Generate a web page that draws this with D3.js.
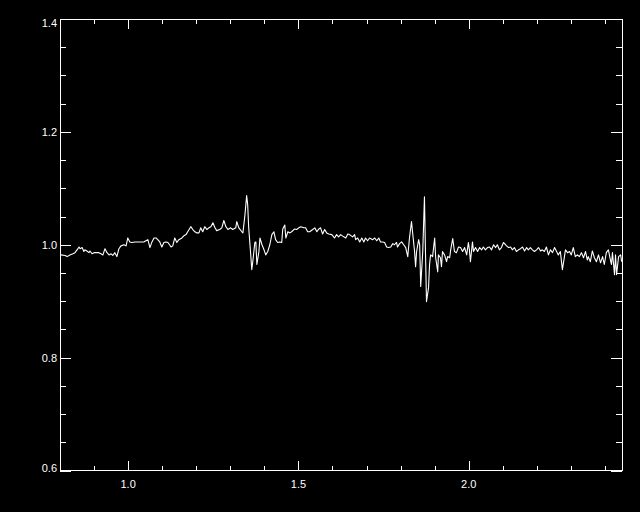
<!DOCTYPE html>
<html>
<head>
<meta charset="utf-8">
<script src="https://cdn.jsdelivr.net/npm/d3@7"></script>
<style>
  html, body { margin: 0; padding: 0; background: #000; }
  .plot-frame { fill: none; stroke: #fff; stroke-width: 1; shape-rendering: crispEdges; }
  .plot-tick { stroke: #fff; stroke-width: 1; shape-rendering: crispEdges; }
  .plot-label { fill: #fff; font-family: "Liberation Sans", Arial, sans-serif; font-size: 11px; }
  .plot-line { fill: none; stroke: #fff; stroke-width: 1.1; stroke-linejoin: round; }
</style>
</head>
<body>
<div class="chart"></div>
<script>
// Spectrum samples (x = wavelength, y = normalised flux)
var wave = [
  0.803, 0.815, 0.821, 0.829, 0.838, 0.844, 0.850, 0.856, 0.859, 0.865,
  0.870, 0.873, 0.879, 0.885, 0.888, 0.894, 0.900, 0.906, 0.914, 0.920,
  0.926, 0.932, 0.938, 0.944, 0.950, 0.955, 0.961, 0.967, 0.973, 0.979,
  0.988, 0.994, 0.999, 1.005, 1.011, 1.020, 1.029, 1.038, 1.046, 1.052,
  1.058, 1.064, 1.070, 1.076, 1.082, 1.087, 1.093, 1.099, 1.105, 1.111,
  1.117, 1.126,
  1.131, 1.137, 1.143, 1.149, 1.158, 1.164, 1.170, 1.175, 1.184, 1.190,
  1.196, 1.202, 1.208, 1.213, 1.219, 1.225, 1.231, 1.237, 1.243, 1.249,
  1.255, 1.260, 1.269, 1.275, 1.281, 1.287, 1.293, 1.301, 1.307, 1.316,
  1.319, 1.325, 1.334, 1.337, 1.343, 1.348, 1.351, 1.354, 1.360, 1.363,
  1.366, 1.372, 1.375, 1.378, 1.384, 1.387, 1.393, 1.399, 1.404, 1.410,
  1.416, 1.422, 1.428, 1.433, 1.439, 1.445, 1.451, 1.454,
  1.460, 1.463, 1.469, 1.475, 1.480, 1.489, 1.495, 1.501, 1.507, 1.516,
  1.521, 1.527, 1.533, 1.542, 1.548, 1.554, 1.560, 1.565, 1.571, 1.577,
  1.583, 1.589, 1.598, 1.606, 1.612, 1.618, 1.624, 1.633, 1.639, 1.645,
  1.650, 1.659, 1.665, 1.668, 1.674, 1.680, 1.686, 1.692, 1.697, 1.703,
  1.709, 1.718, 1.724, 1.730, 1.736, 1.741, 1.747, 1.753, 1.759, 1.765,
  1.771, 1.777, 1.782,
  1.788, 1.791, 1.797, 1.803, 1.809, 1.815, 1.821, 1.826, 1.832, 1.835,
  1.841, 1.844, 1.847, 1.853, 1.856, 1.859, 1.865, 1.870, 1.873, 1.876,
  1.882, 1.885, 1.888, 1.894, 1.897, 1.900, 1.903, 1.909, 1.911, 1.917,
  1.920, 1.923, 1.929, 1.935, 1.938, 1.944, 1.947, 1.953, 1.958, 1.964,
  1.970, 1.976, 1.982, 1.988, 1.994, 1.999, 2.002, 2.005, 2.011, 2.014,
  2.020, 2.026, 2.032, 2.038, 2.043, 2.049, 2.055, 2.061, 2.067, 2.073,
  2.079, 2.084, 2.090, 2.096, 2.102, 2.111,
  2.117, 2.123, 2.128, 2.134, 2.140, 2.146, 2.152, 2.158, 2.164, 2.170,
  2.175, 2.181, 2.187, 2.193, 2.199, 2.205, 2.211, 2.216, 2.222, 2.228,
  2.234, 2.240, 2.246, 2.252, 2.258, 2.263, 2.269, 2.275, 2.281, 2.284,
  2.290, 2.296, 2.301, 2.307, 2.313, 2.319, 2.325, 2.331, 2.337, 2.343,
  2.348, 2.351, 2.357, 2.363, 2.369, 2.375, 2.381, 2.387, 2.393, 2.398,
  2.404, 2.410, 2.416, 2.419, 2.422, 2.428, 2.431, 2.434, 2.440, 2.446,
  2.449
];
var flux = [
  0.982, 0.981, 0.979, 0.982, 0.984, 0.986, 0.991, 0.996, 0.993, 0.995,
  0.988, 0.991, 0.989, 0.986, 0.989, 0.984, 0.986, 0.986, 0.986, 0.984,
  0.982, 0.993, 0.986, 0.982, 0.984, 0.981, 0.986, 0.979, 0.993, 0.998,
  1.000, 0.998, 1.012, 1.005, 1.004, 1.005, 1.005, 1.005, 1.005, 1.007,
  1.009, 0.995, 1.005, 1.012, 1.012, 1.009, 1.005, 0.996, 1.004, 1.005,
  1.004, 0.996,
  0.998, 1.012, 1.004, 1.009, 1.012, 1.016, 1.018, 1.023, 1.032, 1.027,
  1.023, 1.021, 1.021, 1.030, 1.023, 1.032, 1.027, 1.030, 1.032, 1.039,
  1.030, 1.025, 1.027, 1.030, 1.043, 1.032, 1.027, 1.030, 1.027, 1.030,
  1.041, 1.030, 1.023, 1.021, 1.053, 1.087, 1.071, 1.030, 0.982, 0.956,
  0.970, 1.004, 1.005, 0.965, 0.988, 1.012, 1.000, 0.991, 0.982, 0.988,
  1.000, 1.018, 1.023, 1.009, 1.004, 1.005, 1.004, 1.028,
  1.035, 1.012, 1.023, 1.021, 1.023, 1.028, 1.027, 1.030, 1.032, 1.030,
  1.030, 1.023, 1.023, 1.027, 1.030, 1.023, 1.028, 1.030, 1.019, 1.027,
  1.021, 1.019, 1.018, 1.012, 1.018, 1.014, 1.018, 1.014, 1.012, 1.019,
  1.018, 1.014, 1.018, 1.009, 1.012, 1.005, 1.012, 1.005, 1.012, 1.007,
  1.012, 1.009, 1.012, 1.007, 1.012, 1.005, 1.005, 1.004, 0.996, 0.995,
  0.996, 1.002, 1.000,
  1.004, 0.996, 1.002, 1.005, 1.000, 0.995, 0.979, 1.012, 1.041, 1.023,
  0.988, 0.961, 0.988, 1.009, 1.000, 0.926, 0.988, 1.085, 0.988, 0.899,
  0.924, 0.965, 0.982, 0.979, 0.996, 1.012, 0.977, 0.952, 0.982, 0.977,
  0.961, 0.988, 0.982, 0.970, 0.979, 0.977, 0.991, 1.011, 0.988, 0.986,
  0.996, 0.995, 0.988, 0.995, 0.982, 1.004, 0.991, 0.970, 1.005, 0.988,
  0.995, 0.988, 0.995, 0.991, 0.996, 0.991, 0.995, 0.996, 0.991, 1.000,
  0.995, 1.000, 0.991, 0.995, 1.004, 0.998,
  0.995, 0.996, 0.991, 0.995, 0.988, 0.991, 0.993, 0.996, 0.989, 0.995,
  0.991, 0.995, 0.991, 0.988, 0.991, 0.995, 0.989, 0.991, 0.988, 0.996,
  0.982, 0.991, 0.986, 0.995, 0.988, 0.982, 0.988, 0.956, 0.979, 0.991,
  0.986, 0.988, 0.982, 0.995, 0.979, 0.982, 0.979, 0.986, 0.977, 0.988,
  0.973, 0.979, 0.970, 0.989, 0.977, 0.970, 0.982, 0.968, 0.979, 0.965,
  0.986, 0.991, 0.973, 0.965, 0.986, 0.947, 0.982, 0.947, 0.979, 0.982,
  0.970
];

// Axis ranges and tick values
var X_DOMAIN = [0.8, 2.45];
var Y_DOMAIN = [0.6, 1.4];
var X_MAJOR_TICKS = [1.0, 1.5, 2.0];
var X_MINOR_TICKS = [0.9, 1.1, 1.2, 1.3, 1.4, 1.6, 1.7, 1.8, 1.9, 2.1, 2.2, 2.3, 2.4];
var Y_MAJOR_TICKS = [0.6, 0.8, 1.0, 1.2, 1.4];
var Y_MINOR_TICKS = [0.65, 0.7, 0.75, 0.85, 0.9, 0.95, 1.05, 1.1, 1.15, 1.25, 1.3, 1.35];

// Plot geometry (pixels)
var WIDTH = 640, HEIGHT = 512;
var PLOT_LEFT = 60, PLOT_RIGHT = 622, PLOT_TOP = 19, PLOT_BOTTOM = 470.5;
var MAJOR_LEN = 10, MINOR_LEN = 5;

var svg = d3.select(".chart").append("svg")
    .attr("width", WIDTH)
    .attr("height", HEIGHT)
    .style("display", "block")
    .style("background", "#000");

var x = d3.scaleLinear().domain(X_DOMAIN).range([PLOT_LEFT, PLOT_RIGHT]);
var y = d3.scaleLinear().domain(Y_DOMAIN).range([PLOT_BOTTOM, PLOT_TOP]);

// Clip the trace to the plot box
svg.append("clipPath").attr("id", "plot-clip")
    .append("rect")
    .attr("x", PLOT_LEFT).attr("y", PLOT_TOP)
    .attr("width", PLOT_RIGHT - PLOT_LEFT)
    .attr("height", PLOT_BOTTOM - PLOT_TOP);

// Inward ticks on all four sides: axisBottom/axisTop with negative size
function tick_axis(gen, ticks, len, transform) {
    var g = svg.append("g").attr("transform", transform)
        .call(gen.tickValues(ticks).tickSize(-len).tickFormat(""));
    g.select(".domain").remove();
    g.selectAll(".tick line").attr("class", "plot-tick");
    return g;
}

tick_axis(d3.axisBottom(x), X_MAJOR_TICKS, MAJOR_LEN, "translate(0," + PLOT_BOTTOM + ")");
tick_axis(d3.axisBottom(x), X_MINOR_TICKS, MINOR_LEN, "translate(0," + PLOT_BOTTOM + ")");
tick_axis(d3.axisTop(x), X_MAJOR_TICKS, MAJOR_LEN, "translate(0," + PLOT_TOP + ")");
tick_axis(d3.axisTop(x), X_MINOR_TICKS, MINOR_LEN, "translate(0," + PLOT_TOP + ")");
tick_axis(d3.axisLeft(y), Y_MAJOR_TICKS, MAJOR_LEN + 1, "translate(" + PLOT_LEFT + ",0)");
tick_axis(d3.axisLeft(y), Y_MINOR_TICKS, MINOR_LEN + 1, "translate(" + PLOT_LEFT + ",0)");
tick_axis(d3.axisRight(y), Y_MAJOR_TICKS, MAJOR_LEN + 1, "translate(" + PLOT_RIGHT + ",0)");
tick_axis(d3.axisRight(y), Y_MINOR_TICKS, MINOR_LEN + 1, "translate(" + PLOT_RIGHT + ",0)");

// Frame
svg.append("rect")
    .attr("class", "plot-frame")
    .attr("x", PLOT_LEFT).attr("y", PLOT_TOP)
    .attr("width", PLOT_RIGHT - PLOT_LEFT)
    .attr("height", PLOT_BOTTOM - PLOT_TOP);

// Tick labels
svg.selectAll("text.xlab").data(X_MAJOR_TICKS).enter().append("text")
    .attr("class", "plot-label")
    .attr("x", function (d) { return x(d); })
    .attr("y", PLOT_BOTTOM + 17)
    .attr("text-anchor", "middle")
    .text(function (d) { return d.toFixed(1); });

svg.selectAll("text.ylab").data(Y_MAJOR_TICKS).enter().append("text")
    .attr("class", "plot-label")
    .attr("x", PLOT_LEFT - 3)
    .attr("y", function (d) {
        // IDL nudges the end labels inside the box
        return Math.min(Math.max(y(d) + 4.5, PLOT_TOP + 8), PLOT_BOTTOM + 1.5);
    })
    .attr("text-anchor", "end")
    .text(function (d) { return d.toFixed(1); });

// The spectrum trace
var line = d3.line()
    .x(function (d, i) { return x(wave[i]); })
    .y(function (d) { return y(d); });

svg.append("path")
    .datum(flux)
    .attr("class", "plot-line")
    .attr("clip-path", "url(#plot-clip)")
    .attr("d", line);
</script>
</body>
</html>
